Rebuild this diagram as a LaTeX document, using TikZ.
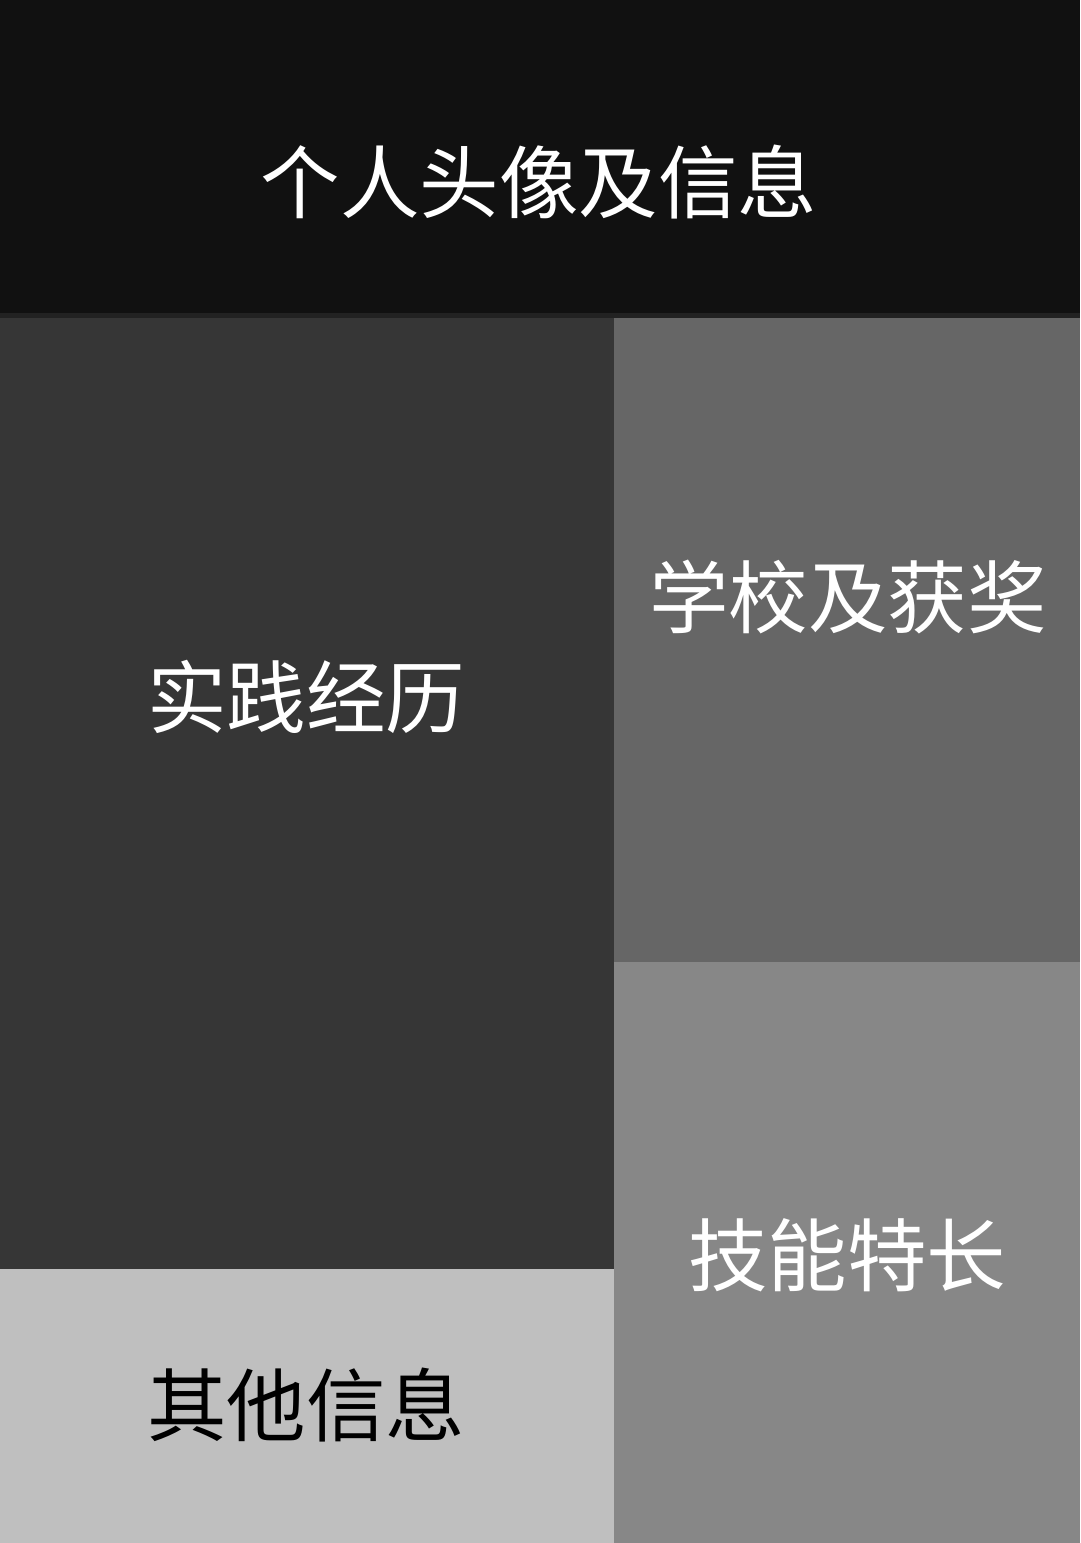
\documentclass[tikz,border=0pt]{standalone}
\usepackage{fontspec}
\newfontfamily\cjk{Noto Sans CJK SC}
\definecolor{topc}{HTML}{111111}
\definecolor{stripc}{HTML}{222222}
\definecolor{leftc}{HTML}{363636}
\definecolor{rtopc}{HTML}{666666}
\definecolor{rbotc}{HTML}{878787}
\definecolor{lbotc}{HTML}{BFBFBF}
\tikzset{lbl/.style={font=\cjk\fontsize{79.5}{80}\selectfont, inner sep=0pt, anchor=center}}
\begin{document}
\begin{tikzpicture}[x=1pt,y=-1pt]
\useasboundingbox (0,0) rectangle (1080,1543);
\fill[topc] (0,0) rectangle (1080,313);
\fill[stripc] (0,313) rectangle (1080,318);
\fill[leftc] (0,318) rectangle (614,1269);
\fill[rtopc] (614,318) rectangle (1080,962);
\fill[rbotc] (614,962) rectangle (1080,1543);
\fill[lbotc] (0,1269) rectangle (614,1543);
\node[lbl, text=white] (t1) at (539,182) {个人头像及信息};
\node[lbl, text=white] (t2) at (306,697) {实践经历};
\node[lbl, text=white] (t3) at (848,597) {学校及获奖};
\node[lbl, text=white] (t4) at (847,1255) {技能特长};
\node[lbl, text=black] (t5) at (306,1405) {其他信息};
\end{tikzpicture}
\end{document}
